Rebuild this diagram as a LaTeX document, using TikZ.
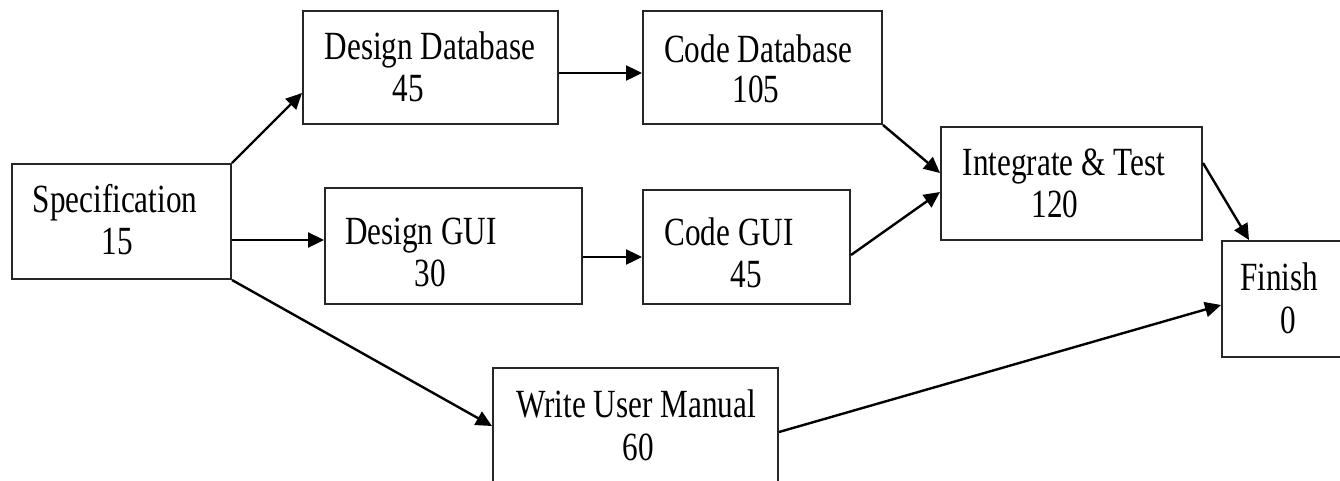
\documentclass[tikz,border=0pt]{standalone}
\usepackage{fontspec}
\setmainfont[FakeStretch=0.78]{Liberation Serif}
\usetikzlibrary{arrows.meta}
\begin{document}
\begin{tikzpicture}[x=1pt,y=-1pt,
  box/.style={draw=black!85,line width=2pt,inner sep=0pt,rectangle},
  txt/.style={inner sep=0pt,anchor=base,font=\fontsize{40}{48}\selectfont},
  arr/.style={line width=2.4pt,-{Triangle[length=16pt,width=15pt]}}]
\useasboundingbox (0,0) rectangle (1340,480);
% boxes
\node[box,minimum width=219pt,minimum height=115pt] (spec) at (121.5,221.5) {};
\node[box,minimum width=255pt,minimum height=113pt] (ddb) at (430.5,67.5) {};
\node[box,minimum width=239pt,minimum height=113pt] (cdb) at (762.5,67.5) {};
\node[box,minimum width=261pt,minimum height=113pt] (it) at (1071.5,183.5) {};
\node[box,minimum width=122pt,minimum height=116pt] (fin) at (1283,299) {};
\node[box,minimum width=257pt,minimum height=116pt] (dgui) at (453.5,246) {};
\node[box,minimum width=207pt,minimum height=114pt] (cgui) at (746.5,247) {};
\node[box,minimum width=285pt,minimum height=116pt] (wum) at (635.5,426) {};
% texts
\node[txt] (t1) at (115,212) {Specification};
\node[txt] (t2) at (117,254) {15};
\node[txt] (t3) at (430,59) {Design Database};
\node[txt] (t4) at (408,101) {45};
\node[txt] (t5) at (758,62) {Code Database};
\node[txt] (t6) at (756,102) {105};
\node[txt] (t7) at (1064,175) {Integrate \& Test};
\node[txt] (t8) at (1055,217) {120};
\node[txt] (t9) at (1279,290) {Finish};
\node[txt] (t10) at (1288,333) {0};
\node[txt] (t11) at (421,244) {Design GUI};
\node[txt] (t12) at (430,286) {30};
\node[txt] (t13) at (729,245) {Code GUI};
\node[txt] (t14) at (746,287) {45};
\node[txt] (t15) at (636,417) {Write User Manual};
\node[txt] (t16) at (638,460) {60};
% connectors
\draw[arr] (spec.north east) -- ([yshift=-25.5pt]ddb.west);
\draw[arr] ([yshift=-18.5pt]spec.east) -- ([yshift=6pt]dgui.west);
\draw[arr] (spec.south east) -- (wum.west);
\draw[arr] ([yshift=-5.5pt]ddb.east) -- ([yshift=-5.5pt]cdb.west);
\draw[arr] ([yshift=-11pt]dgui.east) -- ([yshift=-10pt]cgui.west);
\draw[arr] (cdb.south east) -- ([yshift=10.5pt]it.west);
\draw[arr] ([yshift=-8pt]cgui.east) -- ([yshift=-8.5pt]it.west);
\draw[arr] ([yshift=20.5pt]it.east) -- ([xshift=-34pt]fin.north);
\draw[arr] ([yshift=-6pt]wum.east) -- ([yshift=-6pt]fin.west);
\end{tikzpicture}
\end{document}
